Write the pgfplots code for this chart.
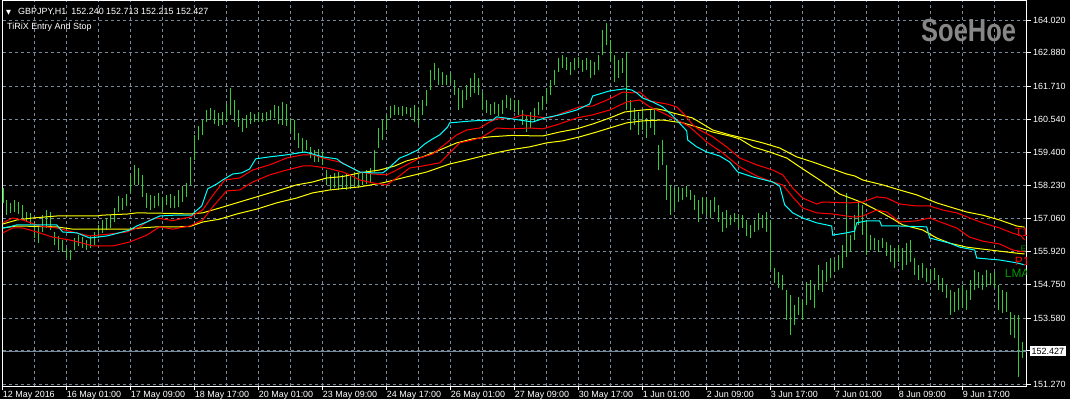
\documentclass[border=0pt]{standalone}
\usepackage{pgfplots}
\pgfplotsset{compat=1.18}
\usepackage{pgfplotstable}
\usepackage{fontspec}
\setmainfont{Liberation Sans}
\newfontfamily\djv{DejaVu Sans}
\definecolor{barg}{RGB}{50,205,50}
\definecolor{gridc}{RGB}{119,136,153}
\definecolor{lmagreen}{RGB}{0,150,0}
\definecolor{wm}{RGB}{135,135,135}
\definecolor{cyc}{RGB}{0,255,255}
\definecolor{yec}{RGB}{255,255,0}
\definecolor{rdc}{RGB}{255,0,0}

\pgfplotstableread{
i lo hi
0 157.62 158.14
2 157.19 157.72
4 157.27 157.62
6 157.30 157.72
8 157.23 157.65
10 157.09 157.55
12 156.95 157.30
14 156.88 157.27
16 156.39 156.95
18 156.21 156.85
20 156.60 157.19
22 156.74 157.37
24 156.67 157.30
26 156.14 156.60
28 155.97 156.46
30 155.90 156.32
32 155.69 156.04
34 155.62 155.97
36 155.97 156.39
38 156.11 156.49
40 156.04 156.42
42 155.97 156.32
44 156.04 156.46
46 156.14 156.60
48 156.39 156.85
50 156.57 157.02
52 156.67 157.09
54 156.74 157.19
56 156.95 157.44
58 157.30 157.86
60 157.37 157.79
62 157.51 157.93
64 157.97 158.60
66 158.25 158.95
68 158.25 158.84
70 157.83 158.60
72 157.44 157.97
74 157.37 157.90
76 157.44 157.86
78 157.51 157.97
80 157.37 157.83
82 157.55 157.90
84 157.44 157.93
86 157.44 157.86
88 157.48 158.07
90 157.65 158.21
92 157.83 158.32
94 158.25 159.23
96 159.12 160.00
98 159.82 160.31
100 160.00 160.52
102 160.45 160.87
104 160.52 160.94
106 160.38 160.87
108 160.31 160.77
110 160.35 160.80
112 160.45 161.08
114 160.70 161.64
116 160.45 161.22
118 160.28 160.87
120 160.10 160.59
122 160.24 160.70
124 160.38 160.80
126 160.45 160.73
128 160.45 160.80
130 160.45 160.77
132 160.49 160.80
134 160.52 160.87
136 160.59 161.05
138 160.38 161.01
140 160.35 161.15
142 160.31 161.08
144 160.10 160.59
146 159.82 160.52
148 159.54 160.07
150 159.40 159.89
152 159.47 159.82
154 159.19 159.58
156 159.05 159.47
158 159.05 159.51
160 158.95 159.40
162 158.25 158.77
164 158.07 158.60
166 158.14 158.67
168 158.07 158.70
170 158.14 158.60
172 158.07 158.63
174 158.11 158.56
176 158.21 158.70
178 158.14 158.63
180 158.25 158.67
182 158.28 158.77
184 158.35 158.84
186 158.70 159.47
188 159.54 160.24
190 159.82 160.52
192 160.17 160.70
194 160.59 161.01
196 160.70 161.05
198 160.70 160.98
200 160.66 161.01
202 160.73 160.98
204 160.63 160.94
206 160.45 161.05
208 160.35 160.94
210 160.70 161.22
212 161.01 161.57
214 161.57 162.27
216 161.92 162.52
218 161.75 162.34
220 161.75 162.20
222 161.75 162.10
224 161.82 162.17
226 161.40 161.92
228 160.87 161.64
230 160.94 161.57
232 161.22 161.75
234 161.33 161.99
236 161.47 162.17
238 161.40 161.99
240 160.87 161.50
242 160.77 161.22
244 160.70 161.08
246 160.73 161.15
248 160.66 161.08
250 160.73 161.22
252 160.94 161.40
254 160.87 161.29
256 160.80 161.22
258 160.70 161.22
260 160.35 160.87
262 160.10 160.70
264 160.24 160.80
266 160.45 160.94
268 160.70 161.15
270 160.87 161.36
272 161.12 161.64
274 161.40 161.92
276 161.75 162.27
278 162.20 162.69
280 162.34 162.80
282 162.27 162.73
284 162.10 162.55
286 162.27 162.69
288 162.34 162.73
290 162.20 162.62
292 162.27 162.69
294 161.99 162.62
296 162.10 162.55
298 162.27 162.80
300 162.80 163.67
302 163.15 163.92
304 162.55 163.32
306 161.85 162.80
308 161.99 162.62
310 162.17 162.69
312 160.87 162.90
314 160.17 161.22
316 160.35 160.94
318 160.00 160.80
320 160.17 160.87
322 159.89 160.59
324 160.24 160.87
326 160.00 160.94
328 158.77 159.65
330 158.95 159.82
332 157.72 158.95
334 157.19 158.25
336 157.37 158.14
338 157.65 158.18
340 157.72 158.14
342 157.83 158.21
344 157.72 158.07
346 157.37 157.90
348 156.95 157.72
350 157.23 157.83
352 157.19 157.79
354 157.09 157.72
356 157.30 157.83
358 156.95 157.55
360 156.60 157.30
362 156.74 157.37
364 156.85 157.19
366 156.95 157.27
368 156.78 157.23
370 156.74 157.19
372 156.46 157.02
374 156.39 156.85
376 156.60 157.02
378 156.67 157.27
380 156.74 157.19
382 156.60 157.30
384 155.27 157.02
386 154.81 155.34
388 154.64 155.20
390 154.57 155.09
392 153.52 154.57
394 153.00 154.39
396 153.35 154.04
398 153.69 154.32
400 153.52 154.22
402 154.04 154.85
404 154.22 154.92
406 153.94 154.74
408 154.57 155.45
410 154.50 155.27
412 154.85 155.55
414 154.99 155.69
416 155.20 155.62
418 155.27 155.79
420 155.34 156.14
422 155.73 157.97
424 155.90 156.49
426 156.32 157.19
428 156.85 157.62
430 156.49 157.55
432 155.79 157.02
434 155.97 156.49
436 155.97 156.39
438 155.90 156.32
440 156.04 156.39
442 155.76 156.25
444 155.55 156.14
446 155.34 156.04
448 155.55 156.14
450 155.27 156.04
452 155.45 156.21
454 155.55 156.32
456 155.09 155.69
458 154.92 155.45
460 154.99 155.52
462 154.85 155.34
464 154.81 155.27
466 154.92 155.34
468 154.57 155.09
470 154.50 154.99
472 154.29 154.74
474 153.69 154.57
476 153.80 154.50
478 153.87 154.64
480 153.94 154.74
482 153.87 154.57
484 154.22 154.92
486 154.57 155.27
488 154.64 155.20
490 154.57 155.09
492 154.67 155.27
494 154.74 155.17
496 154.64 155.20
498 153.87 154.74
500 153.77 154.57
502 153.80 154.50
504 153.00 153.80
506 152.89 153.69
508 151.52 153.69
510 152.19 152.75
}\bars

\pgfplotstableread{
i p
0 156.88
3.5 156.95
7 157.02
15 157.09
27 157.16
47 157.16
50 157.19
62.5 157.23
67 157.27
86 157.25
93.5 157.23
100 157.27
108.5 157.44
117 157.62
127 157.83
137 158.04
147 158.25
155 158.35
162 158.49
170 158.54
178.5 158.67
188.5 158.77
196 158.91
202 159.09
210 159.23
218.5 159.47
227 159.72
235 159.86
243.5 159.93
254.5 159.98
270 159.96
278.5 160.10
287 160.21
295 160.38
303.5 160.59
311 160.80
320 160.87
327 160.91
330 160.87
335 160.77
340 160.68
345 160.59
355 160.17
363.5 160.00
372 159.86
380 159.72
388.5 159.54
397 159.23
405 159.05
413.5 158.84
422 158.63
426 158.56
430 158.42
440 158.25
448.5 158.07
457 157.90
467 157.62
473.5 157.48
482 157.30
490 157.19
498.5 157.02
507 156.81
511 156.77
}\yellowA

\pgfplotstableread{
i p
0 156.74
7 156.81
27 156.78
35 156.70
63.5 156.70
68.5 156.74
77 156.78
86 156.78
93.5 156.79
100 156.95
108.5 157.05
117 157.23
127 157.40
137 157.62
147 157.79
155 157.97
163.5 158.07
170 158.12
178.5 158.18
190 158.32
202 158.53
212 158.70
223.5 158.98
232 159.12
240 159.26
248.5 159.40
255 159.49
263.5 159.58
272 159.72
280 159.79
288.5 159.93
297 160.10
303.5 160.24
312 160.42
320 160.49
330 160.52
340 160.42
347 160.28
355 160.10
363.5 159.96
368.5 159.86
375 159.58
383.5 159.40
392 159.19
398.5 158.88
407 158.49
413.5 158.18
418.5 157.93
425 157.76
430 157.62
437 157.37
443.5 157.12
450 156.85
460 156.67
467 156.39
473.5 156.21
482 156.07
490 156.00
498.5 155.93
507 155.86
511 155.83
}\yellowB

\pgfplotstableread{
i p
0 156.74
3.5 156.78
7 156.85
27 156.85
30 156.60
37 156.57
43.5 156.39
52 156.46
56 156.53
63.5 156.67
67 156.81
72 156.95
78.5 157.16
86 157.19
94.5 157.19
96 157.30
99.5 157.51
102.5 158.11
107 158.28
110 158.42
115 158.63
119.5 158.67
123.5 158.81
126.5 159.16
133.5 159.23
142 159.30
151 159.40
155 159.33
160 159.23
167 159.16
170 159.00
173.5 158.88
178.5 158.70
185 158.67
190 158.67
192 158.77
198.5 159.19
202.5 159.30
207.5 159.47
211 159.68
215 159.86
218.5 160.00
222.5 160.28
223.5 160.42
228.5 160.45
235 160.49
245 160.52
247 160.63
254.5 160.56
265 160.45
271 160.59
278.5 160.70
287 160.87
293.5 161.08
295 161.36
303.5 161.54
311 161.61
314.5 161.57
317 161.47
320 161.29
325 161.15
330 160.98
334.5 160.70
339.5 160.33
342 160.14
342.5 159.82
347 159.58
352 159.40
358.5 159.26
363.5 159.05
367.5 158.70
375 158.53
385 158.35
388.5 158.21
391 157.55
395 157.27
400 157.09
407 156.92
414.5 156.81
415 156.49
422 156.57
426 156.63
427 156.92
432 156.99
438.5 156.99
439.5 156.81
448.5 156.81
462 156.78
463.5 156.39
473.5 156.21
478.5 156.07
486 155.97
487 155.69
498.5 155.62
507 155.52
511 155.45
}\cyanL

\pgfplotstableread{
i p
0 156.92
5 157.09
10 157.02
18.5 156.81
27 156.74
35 156.60
43.5 156.46
53.5 156.53
62 156.60
68.5 156.78
73.5 157.02
77 157.09
85 157.00
93.5 157.12
100 157.37
104.5 157.83
111 158.42
118.5 158.49
125 158.77
133.5 158.95
142 159.19
150 159.30
155 159.30
160 159.19
170 159.02
173.5 158.88
178.5 158.70
185 158.63
192 158.60
195 158.70
202 158.95
208.5 159.19
215 159.33
222 159.72
227 160.00
232 160.17
238.5 160.24
243.5 160.45
247 160.56
254.5 160.57
260 160.70
267 160.63
273.5 160.59
280 160.77
288.5 160.98
295 161.01
303.5 161.26
310 161.50
315 161.47
318.5 161.50
323.5 161.19
332 161.08
337 160.98
341 160.70
345 160.35
348.5 160.17
355 159.93
362 159.58
368.5 159.19
377 158.95
385 158.77
390 158.60
395 158.14
400 157.79
407 157.58
410 157.65
423.5 157.62
430 157.65
437 157.83
442 157.79
448.5 157.58
457 157.51
463.5 157.51
470 157.37
477 157.27
483.5 157.09
490 156.92
498.5 156.74
505 156.56
509 156.48
511 156.32
}\redA

\pgfplotstableread{
i p
0 156.57
5 156.74
10 156.74
17 156.60
25 156.42
33.5 156.32
40 156.21
45 156.11
55 156.11
63.5 156.25
72 156.49
78.5 156.78
85 156.70
93.5 156.81
100 157.02
105 157.48
112 158.04
118.5 158.07
125 158.35
133.5 158.60
142 158.77
150 158.91
155 158.91
162 158.84
170 158.70
173.5 158.60
178.5 158.42
185 158.32
192 158.25
197 158.49
203.5 158.84
210 158.91
218.5 159.02
223.5 159.37
228.5 159.72
235 159.82
240 159.93
247 160.24
254.5 160.21
263.5 160.24
270 160.21
277 160.35
287 160.59
295 160.70
303.5 160.87
312 161.15
318.5 161.22
323.5 160.98
330 160.77
337 160.52
341 160.38
343.5 160.28
352 159.75
360 159.37
368.5 158.88
377 158.56
385 158.35
390 158.25
395 157.83
400 157.44
407 157.27
415 157.23
426 157.12
430 157.16
437 157.37
442 157.30
448.5 156.95
457 156.99
463.5 157.09
470 156.92
477 156.74
483.5 156.42
490 156.28
498.5 156.18
505 155.97
511 155.90
}\redB

\begin{document}
\begin{tikzpicture}
\fill[black] (0,0) rectangle (1070bp,399bp);
\begin{axis}[
  at={(2.7bp,13bp)}, anchor=south west,
  scale only axis, width=1024.3bp, height=385bp,
  xmin=0, xmax=512.15, ymin=151.21, ymax=164.685,
  axis line style={white, line width=1bp},
  xtick={0,32,...,480},
  minor xtick={16,48,...,496},
  xticklabels={12 May 2016,16 May 01:00,17 May 09:00,18 May 17:00,20 May 01:00,23 May 09:00,24 May 17:00,26 May 01:00,27 May 09:00,30 May 17:00,1 Jun 01:00,2 Jun 09:00,3 Jun 17:00,7 Jun 01:00,8 Jun 09:00,9 Jun 17:00},
  ytick={151.27,152.44,153.58,154.75,155.92,157.06,158.23,159.40,160.54,161.71,162.88,164.02},
  yticklabels={151.270,,153.580,154.750,155.920,157.060,158.230,159.400,160.540,161.710,162.880,164.020},
  xtick pos=bottom, ytick pos=right,
  tick align=outside,
  major tick length=4bp, minor tick length=0pt,
  major tick style={white, line width=0.8bp},
  grid=both,
  major grid style={gridc, dash pattern=on 3bp off 3bp, line width=0.8bp},
  minor grid style={gridc, dash pattern=on 3bp off 3bp, line width=0.8bp},
  xticklabel style={anchor=north west, text=white, inner sep=0pt, font=\fontsize{9}{10}\selectfont, yshift=-1bp},
  yticklabel style={anchor=west, text=white, inner sep=0pt, font=\fontsize{9}{10}\selectfont, xshift=2bp},
]
\addplot[gridc, line width=1bp] coordinates {(0,152.427) (512.15,152.427)};
\addplot[draw=none, forget plot, error bars/.cd, y dir=both, y explicit,
  error mark=none, error bar style={barg, line width=1.6bp}]
  table[x=i, y expr={(\thisrow{lo}+\thisrow{hi})/2}, y error expr={(\thisrow{hi}-\thisrow{lo})/2}] {\bars};
\addplot[yec, line width=1bp] table[x=i,y=p] {\yellowA};
\addplot[yec, line width=1bp] table[x=i,y=p] {\yellowB};
\addplot[rdc, line width=1bp] table[x=i,y=p] {\redA};
\addplot[rdc, line width=1bp] table[x=i,y=p] {\redB};
\addplot[cyc, line width=1bp] table[x=i,y=p] {\cyanL};
\node[anchor=west, text=rdc, inner sep=0pt, font=\fontsize{12}{12}\selectfont] at (axis cs:506,156.60) {T1};
\node[anchor=west, text=lmagreen, inner sep=0pt, font=\fontsize{8}{8}\selectfont] at (axis cs:509,156.02) {E1};
\node[anchor=west, text=rdc, inner sep=0pt, font=\fontsize{12}{12}\selectfont] at (axis cs:506,155.56) {P1};
\node[anchor=west, text=lmagreen, inner sep=0pt, font=\fontsize{12}{12}\selectfont] at (axis cs:501,155.16) {LMA};
\end{axis}
\node[anchor=base west, text=white, inner sep=0pt, font=\djv\fontsize{6.5}{7}\selectfont] at (6bp,384bp) {▼};
\node[anchor=base west, text=white, inner sep=0pt, font=\fontsize{9}{10}\selectfont] at (18bp,384bp) {GBPJPY,H1\ \ 152.240 152.713 152.215 152.427};
\node[anchor=base west, text=white, inner sep=0pt, font=\fontsize{9}{10}\selectfont] at (7bp,369bp) {TiRiX Entry And Stop};
\node[anchor=base west, text=wm, inner sep=0pt, xscale=0.8, font=\bfseries\fontsize{32}{32}\selectfont] at (921bp,357bp) {SoeHoe};
\node[anchor=west, fill=white, text=black, inner xsep=1.5bp, inner ysep=2bp, font=\fontsize{9}{10}\selectfont] at (1030bp,48bp) {152.427};
\pgfresetboundingbox
\path[use as bounding box] (0,0) rectangle (1070bp,399bp);
\end{tikzpicture}
\end{document}
